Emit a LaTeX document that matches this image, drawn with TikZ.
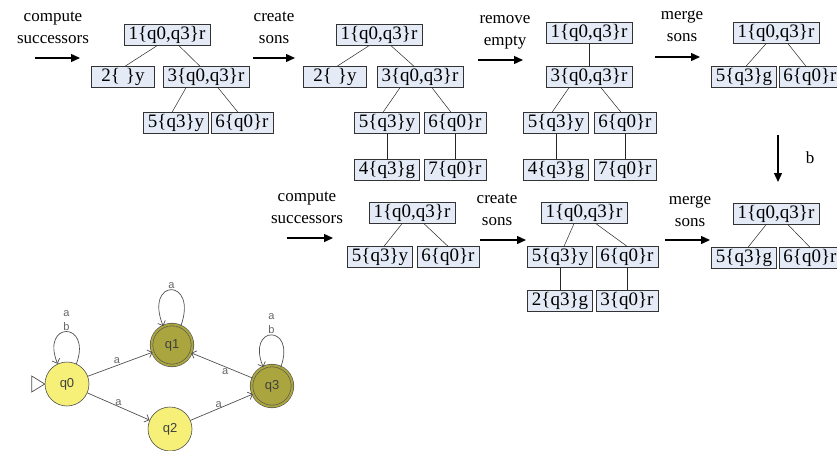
\documentclass[tikz,border=0pt]{standalone}
\usepackage{fontspec}
\setmainfont{Liberation Serif}
\setsansfont{Liberation Sans}
\usetikzlibrary{arrows.meta}

\definecolor{boxfill}{RGB}{228,235,246}
\definecolor{stateyellow}{RGB}{246,240,120}
\definecolor{stateolive}{RGB}{170,165,62}
\definecolor{edgegray}{RGB}{80,80,80}

\begin{document}
\begin{tikzpicture}[x=1pt, y=-1pt,
    tbox/.style = {draw=black!80, fill=boxfill, inner xsep=4.5pt, inner ysep=1pt,
        minimum height=21pt, font=\fontsize{19}{20}\selectfont},
    branch/.style = {black!85, line width=0.5pt},
    flow/.style = {line width=1.4pt, -{Triangle[length=9pt, width=8pt]}},
    steplabel/.style = {align=center, inner sep=0pt, font=\fontsize{17}{22}\selectfont},
    state/.style = {circle, draw=edgegray, line width=0.6pt, fill=stateyellow,
        minimum size=44pt, inner sep=0pt, text=black!75,
        font=\sffamily\fontsize{13}{13}\selectfont},
    final/.style = {fill=stateolive, double=stateolive, double distance=2pt,
        minimum size=41pt},
    trans/.style = {draw=edgegray, line width=0.7pt, -{Straight Barb[length=4pt]}},
    tlabel/.style = {inner sep=1pt, text=black!60, align=center,
        font=\sffamily\fontsize{11}{14}\selectfont}
]
    \useasboundingbox (0,0) rectangle (837,450);

    % steps of the run
    \foreach \nm/\xa/\xb/\ya/\xt/\yt/\txt in {
        cs1/35/80/58/53/28/{compute\\successors},
        cr1/253/295/58/274/28/{create\\sons},
        re1/478/523/60/505/32/{remove\\empty},
        ms1/655/700/57/682/26/{merge\\sons},
        cs2/287/333/238/307/208/{compute\\successors},
        cr2/480/526/240/497/210/{create\\sons},
        ms2/665/710/240/690/211/{merge\\sons}}
    {
        \coordinate (\nm-s) at (\xa,\ya);
        \coordinate (\nm-e) at (\xb,\ya);
        \node[steplabel] (\nm) at (\xt,\yt) {\txt};
        \draw[flow] (\nm-s) -- (\nm-e);
    }
    \coordinate (rd-s) at (778,135);
    \coordinate (rd-e) at (778,182);
    \draw[flow] (rd-s) -- (rd-e);
    \node[steplabel] (rd) at (810,158) {b};

    % trees, first row
    \node[tbox] (t1r) at (167,35) {1\{q0,q3\}r};
    \node[tbox, minimum width=63pt] (t1a) at (123,77) {2\{\hspace{6pt}\}y};
    \node[tbox] (t1b) at (206,77) {3\{q0,q3\}r};
    \node[tbox] (t1c) at (176,123) {5\{q3\}y};
    \node[tbox] (t1d) at (242,123) {6\{q0\}r};

    \node[tbox] (t2r) at (379,35) {1\{q0,q3\}r};
    \node[tbox, minimum width=63pt] (t2a) at (335,77) {2\{\hspace{6pt}\}y};
    \node[tbox] (t2b) at (420,77) {3\{q0,q3\}r};
    \node[tbox] (t2c) at (387,123) {5\{q3\}y};
    \node[tbox] (t2d) at (455,123) {6\{q0\}r};
    \node[tbox] (t2e) at (387,170) {4\{q3\}g};
    \node[tbox] (t2f) at (455,170) {7\{q0\}r};

    \node[tbox] (t3r) at (589,33) {1\{q0,q3\}r};
    \node[tbox] (t3b) at (589,77) {3\{q0,q3\}r};
    \node[tbox] (t3c) at (556,123) {5\{q3\}y};
    \node[tbox] (t3d) at (625,123) {6\{q0\}r};
    \node[tbox] (t3e) at (556,170) {4\{q3\}g};
    \node[tbox] (t3f) at (625,170) {7\{q0\}r};

    \node[tbox] (t4r) at (776,33) {1\{q0,q3\}r};
    \node[tbox] (t4c) at (744,77) {5\{q3\}g};
    \node[tbox] (t4d) at (810,77) {6\{q0\}r};

    % trees, second row
    \node[tbox] (t5r) at (412,213) {1\{q0,q3\}r};
    \node[tbox] (t5c) at (380,257) {5\{q3\}y};
    \node[tbox] (t5d) at (448,257) {6\{q0\}r};

    \node[tbox] (t6r) at (584,213) {1\{q0,q3\}r};
    \node[tbox] (t6c) at (560,257) {5\{q3\}y};
    \node[tbox] (t6d) at (627,257) {6\{q0\}r};
    \node[tbox] (t6e) at (560,301) {2\{q3\}g};
    \node[tbox] (t6f) at (627,301) {3\{q0\}r};

    \node[tbox] (t7r) at (776,214) {1\{q0,q3\}r};
    \node[tbox] (t7c) at (744,258) {5\{q3\}g};
    \node[tbox] (t7d) at (810,258) {6\{q0\}r};

    % parent -- son
    \foreach \p/\c/\s/\e in {
        t1r/t1a/-10/2, t1r/t1b/12/-6, t1b/t1c/-20/-4, t1b/t1d/12/-4,
        t2r/t2a/-10/2, t2r/t2b/12/-6, t2b/t2c/-20/-4, t2b/t2d/12/-4,
        t2c/t2e/0/0, t2d/t2f/0/0,
        t3r/t3b/0/0, t3b/t3c/-20/-4, t3b/t3d/12/-4, t3c/t3e/0/0, t3d/t3f/0/0,
        t4r/t4c/-10/2, t4r/t4d/12/-4,
        t5r/t5c/-10/4, t5r/t5d/12/0,
        t6r/t6c/-10/4, t6r/t6d/12/0, t6c/t6e/0/0, t6d/t6f/0/0,
        t7r/t7c/-10/4, t7r/t7d/12/0}
    \draw[branch] ([xshift=\s pt]\p.south) -- ([xshift=\e pt]\c.north);

    % the automaton
    \node[state, final] (q1) at (172,345) {q1};
    \node[state] (q0) at (67,384) {q0};
    \node[state] (q2) at (170,429) {q2};
    \node[state, final] (q3) at (272,386) {q3};

    \draw[edgegray, line width=0.7pt] (q0.west) -- ++(-13,-8) -- ++(0,16) -- cycle;

    \draw[trans] (q0.65) .. controls +(70:46pt) and +(112:46pt) ..
        node[tlabel, above] {a\\b} (q0.115);
    \draw[trans] (q1.65) .. controls +(70:52pt) and +(112:52pt) ..
        node[tlabel, above] {a} (q1.115);
    \draw[trans] (q3.65) .. controls +(70:46pt) and +(112:46pt) ..
        node[tlabel, above] {a\\b} (q3.115);
    \draw[trans] (q0) -- node[tlabel, above, pos=.45] {a} (q1);
    \draw[trans] (q0) -- node[tlabel, above, pos=.5] {a} (q2);
    \draw[trans] (q2) -- node[tlabel, above, pos=.45] {a} (q3);
    \draw[trans] (q3) -- node[tlabel, below, pos=.45] {a} (q1);
\end{tikzpicture}
\end{document}
